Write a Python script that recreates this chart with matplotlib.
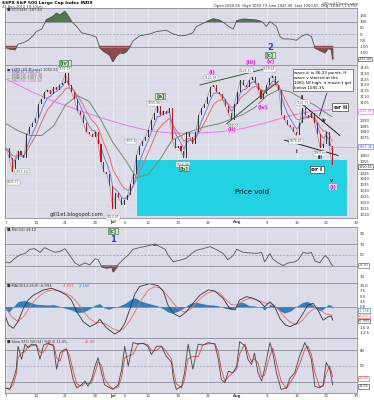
import numpy as np
import pandas as pd
import matplotlib
matplotlib.use('Agg')
import matplotlib.pyplot as plt
from matplotlib.patches import Rectangle

# ---- data (x in trading days from 7-Jun-2010) ----
price = [1066,1058,1046,1056,1064,1060,1058,1078,1084,1088,
         1092,1104,1108,1114,1116,1112,1118,1116,1120,1122,
         1130,1120,1114,1108,1098,1094,1088,1080,1078,1076,
         1080,1070,1054,1046,1044,1034,1014,1028,1024,1018,
         1022,1026,1036,1044,1060,1068,1072,1076,1082,1090,
         1096,1103,1094,1098,1096,1100,1074,1066,1068,1064,
         1058,1080,1076,1070,1080,1094,1100,1104,1110,1118,
         1120,1114,1112,1108,1102,1096,1090,1104,1114,1124,
         1120,1118,1124,1127,1122,1116,1108,1112,1120,1126,
         1128,1120,1116,1094,1090,1086,1084,1080,1077,1088,
         1100,1094,1092,1096,1088,1078,1066,1070,1080,1068,
         1052]
price_step = 0.5

ma_days = [0,2,4,6,8,10,12,14,16,18,20,22,24,26,28,30,32,34,36,38,40,42,44,46,48,50,52,54,55]
ma_vals = [1087,1081,1077,1077,1085,1103,1111,1106,1090,1071,1057,1041,1044,1057,1073,1078,
           1082,1085,1087,1091,1095,1101,1111,1116,1114,1108,1103,1096,1093]

ma200_days = [0,4,8,12,16,20,24,28,32,36,40,44,48,52,55]
ma200_vals = [1125,1115,1106,1099,1092,1086,1081,1079,1079,1080,1083,1088,1094,1098,1099]

cci_days = [-0.2,0.6,1.5,2.0,2.9,3.7,4.6,5.1,6.0,6.8,7.9,8.5,9.1,9.9,10.5,11.0,11.9,12.7,13.6,14.4,
            15.2,15.8,16.5,16.9,17.5,18.0,18.6,19.2,19.8,20.3,20.9,21.4,22.5,24.2,25.4,27.0,28.2,29.3,
            30.4,31.5,32.1,33.2,34.4,34.9,35.8,36.6,37.7,38.3,38.9,40.0,41.1,42.2,43.3,43.9,44.5,45.6,
            46.2,46.7,47.9,49.0,49.8,50.7,51.5,52.1,52.9,53.8,54.3,54.9,55.1]
cci_vals = [-105,-120,-125,-80,-70,-50,-10,20,40,113,140,165,150,180,140,100,60,10,0,-10,
            -25,-110,-140,-150,-170,-220,-175,-150,-155,-140,-100,-55,-15,0,20,30,0,-15,
            -10,10,60,85,110,120,112,95,55,40,105,118,115,110,95,60,100,60,
            -20,-40,-40,-50,-20,0,-20,-110,-130,-150,-115,-125,-200]

rsi_days = [-0.2,0.6,1.5,2.3,3.2,4.0,4.8,5.7,6.5,7.4,8.2,9.1,9.9,10.7,11.6,12.4,13.3,14.1,15.0,15.5,
            16.1,16.9,17.8,18.0,18.9,19.7,20.6,21.4,22.5,23.7,25.1,25.9,26.8,27.3,28.2,29.6,30.4,31.3,
            32.1,33.2,34.4,35.5,36.6,37.4,38.3,38.9,40.0,41.1,42.2,43.1,43.6,44.5,45.0,45.9,46.7,47.6,
            48.7,49.3,50.1,50.9,51.5,52.1,52.9,53.8,54.3,54.9,55.1]
rsi_vals = [37,35,44,50,53,61,62,55,64,59,55,57,62,50,35,30,35,31,43,41,
            28,26,28,19,32,41,50,61,64,67,71,66,61,50,37,41,44,53,
            59,62,66,60,53,41,49,61,55,54,53,55,37,53,42,35,30,35,
            37,41,55,53,55,39,35,49,44,32,30]

macd_days = [-0.2,0.4,1.2,2.0,2.9,3.7,4.6,6.3,7.7,9.1,10.2,11.0,11.9,13.0,14.1,15.2,15.8,16.9,18.3,19.2,
             20.0,20.9,21.7,22.5,24.2,25.6,26.5,27.3,28.2,29.3,30.4,31.5,32.7,34.1,35.2,36.6,37.7,38.6,
             39.4,40.6,41.7,42.8,43.6,44.5,45.3,46.2,47.1,47.9,49.0,50.1,50.9,51.8,52.6,53.5,54.3,54.9,55.1]
macd_vals = [-4,-8.7,-10.3,-7,-0.8,3.2,5.5,8,8.8,7.2,5.5,3.2,-2.4,-7.1,-9.5,-8,-6,-10,-13,-11.5,
             -8,-1,6,9.6,11,10,7.5,0.8,-3.2,-4.8,-2.4,1.6,5.5,8,7.5,4,-0.8,-1.6,
             3.2,4.8,4,2.4,0,2.4,0,-5.6,-8.7,-9.5,-8,-3.2,0.8,1.6,-1.6,-6.4,-4.8,-4.5,-6.4]

sig_days = list(range(0, 56))
sig_vals = [-1,-5,-7,-4.5,0,3.5,6,7.5,8,7.5,6.5,5,2,-2,-5.5,-7.5,-7.5,-8.5,-10.5,-11.5,
            -10,-6,-1,4,8,9.5,9,6,2.5,-1,-2.5,-1.5,1.5,4.5,6.5,7.5,6.5,3.5,1,0.8,
            2.8,4,3.6,2.5,1.5,1.2,-1.5,-5,-7.5,-8.5,-6.5,-3,-0.8,-1.5,-3.5,-4]

hist_days = [-0.2,0.5,1.2,2,3,4,5,6,7,8,9,10,11,12,13,14,15,15.8,16.5,17.3,18,19,20,21,21.7,22.5,
             23.5,24.5,25.5,26.5,27.3,28,29,30,31,32,33,34,35,36,37,38,38.6,39.3,40,41,42,43,43.6,
             44.5,45.3,46.2,47,48,49,50,50.8,51.5,52.2,52.9,53.6,54.3,54.9,55.1]
hist_vals = [-1.2,-2.5,0,2.5,3,2.2,1.2,1,0.8,1,0.2,-0.8,-1.5,-2.8,-2.5,-1.2,0.8,1.5,-0.5,-1.2,-0.5,0.3,1.5,3.5,4.3,3,
             2,1.2,0.5,-1,-2.5,-3,-2.2,-0.5,1.5,2.2,1.5,1,0.8,0.3,-0.8,-1.2,-0.5,2.2,2,0.6,0.3,-0.2,-1.5,
             1,0.3,-2,-3,-2,0.2,2,2.6,1.5,-0.5,-2,-1,1,0.6,-1.5]

sto_days = [-0.2,0.6,1.2,1.7,2.0,2.6,3.2,3.7,4.3,5.1,5.7,6.3,7.1,8.0,8.5,9.1,9.6,10.2,10.7,11.3,
            11.9,12.7,13.3,13.8,14.4,15.0,15.5,16.1,16.6,17.5,18.0,18.9,19.5,20.0,20.6,21.4,22.3,23.1,
            23.9,24.5,25.4,26.2,27.0,27.9,28.2,28.7,29.6,30.1,30.7,31.5,32.4,33.2,34.1,35.2,35.8,36.3,
            36.9,37.5,38.3,38.9,39.4,40.3,40.8,41.4,41.9,42.5,43.1,43.6,44.5,45.0,45.6,46.4,47.3,47.9,
            48.7,49.5,50.4,50.9,51.5,52.1,52.9,53.5,54.0,54.6,55.1]
sto_k = [8,5,24,44,88,63,92,85,92,90,63,90,94,88,44,75,80,83,57,24,
         8,14,21,11,24,50,66,37,14,8,5,14,44,88,50,95,92,94,
         88,72,88,88,69,57,27,5,11,37,92,44,92,90,95,92,63,24,
         18,40,37,50,97,88,63,53,75,37,21,44,95,75,37,5,8,27,
         37,69,95,82,63,11,8,14,57,44,14]

tick_days = [0,5,10,15,18,20,24,29,34,39,44,49,54,59]
tick_labels = ['7','14','21','28','Jul','6','12','19','26','Aug','9','16','23','30']

W, H = 374, 400
BG = '#dcdce8'
fig = plt.figure(figsize=(W/100, H/100), dpi=100)
fig.patch.set_facecolor('white')

def panel(top, bottom):
    ax = fig.add_axes([5/W, 1-bottom/H, 352/W, (bottom-top)/H])
    ax.set_facecolor(BG)
    ax.set_xlim(-0.2, 59.2)
    for s in ax.spines.values():
        s.set_color('#8a8a9a'); s.set_linewidth(0.6)
    ax.set_xticks(tick_days)
    ax.tick_params(axis='x', length=0, labelbottom=False)
    ax.yaxis.tick_right()
    ax.tick_params(axis='y', length=0, labelsize=2.8, pad=2, labelcolor='#333333')
    for d in tick_days:
        ax.axvline(d, color='#ececf4', lw=0.5, zorder=0)
    return ax

def set_right_ticks(ax, vals, fmt, hide=()):
    ax.set_yticks(vals)
    ax.set_yticklabels(['' if v in hide else fmt.format(v) for v in vals])

def ftext(px, py, s, **kw):
    fig.text(px/W, 1-py/H, s, **kw)

def vbox(ax, y, t, c):
    ax.text(59.5, y, t, fontsize=2.4, color=c, va='center', ha='left', clip_on=False, zorder=9,
            bbox=dict(boxstyle='square,pad=0.1', fc='white', ec=c, lw=0.4))

# header
ftext(2, 3, '$SPX S&P 500 Large Cap Index INDX', fontsize=3.2, fontweight='bold', va='center')
ftext(2, 7, '24-Aug-2010 10:30am', fontsize=2.6, color='#444444', va='center')
ftext(340, 3, '@StockCharts.com', fontsize=2.8, color='#444444', va='center', ha='center')
ftext(357, 6.5, 'Open 1050.55  High 1050.73  Low 1047.00  Last 1050.55  Chg -16.81 (-1.57%)',
      fontsize=2.6, color='#222222', va='center', ha='right')

# ---- CCI ----
ax1 = panel(8, 65)
ax1.set_ylim(-248, 208)
set_right_ticks(ax1, [150, 100, 50, 0, -50, -100, -150], '{}')
cx = np.array(cci_days); cy = np.array(cci_vals)
ax1.axhline(100, color='#8c8c9c', lw=0.6)
ax1.axhline(-100, color='#8c8c9c', lw=0.6)
ax1.axhline(0, color='#9c9cac', lw=0.5, ls=(0, (3, 2)))
ax1.fill_between(cx, cy, 100, where=cy > 100, interpolate=True, color='#4f7a4f')
ax1.fill_between(cx, cy, -100, where=cy < -100, interpolate=True, color='#8e4a4a')
ax1.plot(cx, cy, color='#555555', lw=0.6)
ax1.text(0.2, 190, '\u25a0 CCI(144) -187.44', fontsize=2.6, color='#333333', va='center')
vbox(ax1, -200, '-187.44', '#333333')

# ---- price ----
ax2 = panel(65, 218)
ax2.set_ylim(1006.7, 1137)
set_right_ticks(ax2, list(range(1010, 1136, 5)), '{}', hide=(1050, 1065, 1070, 1095, 1100))
for v in np.arange(1010, 1136, 10):
    ax2.axhline(v, color='#e6e6ee', lw=0.4, zorder=0)
ax2.add_patch(Rectangle((22.0, 1008.5), 35.5, 47.6, color='#22d2e2', zorder=1, lw=0))
px = np.arange(len(price)) * price_step
pv = np.array(price, dtype=float)
s = pd.Series(pv)
ema_fast = s.ewm(span=4, adjust=False).mean()
ema_slow = s.ewm(span=8, adjust=False).mean()
ax2.plot(ma200_days, ma200_vals, color='#e67ae6', lw=0.7, zorder=2)
ax2.plot(ma_days, ma_vals, color='#6f8c6f', lw=0.7, zorder=2)
ax2.plot(px, ema_slow, color='#e86a6a', lw=0.7, zorder=3)
ax2.plot(px, ema_fast, color='#6f7fd8', lw=0.7, zorder=3)
ax2.plot(px, pv, color='#8a8a8a', lw=0.45, zorder=3)
for i in range(1, len(pv)):
    o, c = pv[i-1], pv[i]
    col = '#333333' if c >= o else '#d01010'
    ax2.bar(px[i], max(abs(c - o), 0.8), bottom=min(o, c), width=0.17, color=col, zorder=4, lw=0)

# trendlines
ax2.plot([32.7, 43.9], [1120, 1134], color='#2f5f2f', lw=0.7, zorder=5)
ax2.plot([37.2, 45.9], [1087, 1123], color='#2f5f2f', lw=0.7, zorder=5)
ax2.plot([50.1, 56.3], [1103, 1077], color='#222222', lw=0.7, zorder=5)
ax2.plot([47.0, 56.0], [1073, 1060], color='#222222', lw=0.7, zorder=5)
ax2.plot([54.8, 59.2], [1067, 1067], color='#9aa8d8', lw=0.5, ls=(0, (2, 1)), zorder=5)

# legend
leg = [('\u25a0 $SPX (60 Minute) 1050.55', '#333333'), ('\u2014 EMA(5) 1056.43', '#5060c8'),
       ('\u2014 EMA(10) 1060.36', '#d84a4a'), ('\u2014 EMA(20) 1067.78', '#4f6f4f'),
       ('\u2014 MA(200) 1095.86', '#e060e0')]
for k, (t, c) in enumerate(leg):
    ax2.text(0.2, 1133.5 - k*2.6, t, fontsize=2.5, color=c, va='center', zorder=6)

# wave labels
G, M = '#2f6a2f', '#e020e0'
def lab(d, p, t, c, fs=3.8, box=None):
    ax2.text(d, p, t, color=c, fontsize=fs, ha='center', va='center', zorder=7,
             clip_on=False, bbox=box, fontweight='bold')
gbox = dict(boxstyle='square,pad=0.1', fc='#cfe8cf', ec='#2f6a2f', lw=0.4)
lab(9.9, 1139, '[iv]', G, box=gbox)
lab(26.0, 1111, '[a]', G, box=gbox)
lab(30.0, 1049, '[b]', G, box=gbox)
mbox = dict(boxstyle='square,pad=0.1', fc='#f4c8f4', ec='none')
lab(34.7, 1131, '(i)', M, box=mbox)
lab(38.1, 1082, '(ii)', M, box=mbox)
lab(41.3, 1139.5, '(iii)', M, box=mbox)
lab(43.3, 1101, '(iv)', M, box=mbox)
lab(44.6, 1140, '(v)', M, box=mbox)
lab(48.9, 1063, 'i', '#222222', fs=3.5)
lab(50.0, 1109, 'ii', '#222222', fs=3.5)
lab(52.9, 1058, 'iii', '#222222', fs=3.5)
lab(53.6, 1090, 'iv', '#222222', fs=3.5)
lab(54.9, 1039, 'v', '#222222', fs=3.5)
lab(55.1, 1033, '(i)', M, box=mbox)
wbox = dict(boxstyle='square,pad=0.25', fc='white', ec='#444444', lw=0.5)
lab(52.4, 1048, 'or i', '#111111', fs=4.2, box=wbox)
lab(56.4, 1101, 'or ii', '#111111', fs=4.2, box=wbox)
ax2.text(41.4, 1029, 'Price void', fontsize=5, ha='center', va='center', zorder=7)
ax2.text(11.9, 1010, 'gill1et.blogspot.com', fontsize=3.8, ha='center', va='center', zorder=7, color='#222222')
ax2.text(48.6, 1124, 'wave iii is 36.23 points. If\nwave v started at the\n1081.58 high, it mustn\'t get\nbelow 1045.35',
         fontsize=3.0, va='center', ha='left', linespacing=1.3, zorder=8,
         bbox=dict(boxstyle='square,pad=0.4', fc='white', ec='#555555', lw=0.5))
ax2.plot([54.1, 52.9], [1113, 1094], color='#333333', lw=0.6, zorder=8)

# small price tags
pbox = dict(boxstyle='square,pad=0.15', fc='white', ec='#999999', lw=0.3)
tags = [(9.9, 1133.5, '1131.23'), (1.2, 1037, '1042.17'), (2.7, 1046, '1055.64'),
        (18.0, 1007.5, '1010.91'), (25.0, 1104.5, '1099.96'), (29.8, 1052, '1056.88'),
        (34.6, 1126, '1120.95'), (38.2, 1085, '1088.01'), (44.4, 1133.5, '1129.24'),
        (40.5, 1132, '1128.75'), (48.9, 1072, '1076.61'), (50.1, 1105, '1101.73'),
        (52.9, 1062, '1063.xx'), (21.0, 1072, '1071.6')]
for d, p, t in tags:
    ax2.text(d, p, t, fontsize=2.2, color='#555555', ha='center', va='center', zorder=6, bbox=pbox)

# right value boxes
vbox(ax2, 1097.5, '1095.86', '#e060e0')
vbox(ax2, 1067.5, '1067.36', '#5060c8')
vbox(ax2, 1050.5, '1050.55', '#222222')

# wave 2 / [c] and wave 1 / [c] labels
ftext(270, 47, '2', fontsize=6, color='#2040e0', ha='center', va='center', fontweight='bold')
ftext(270, 55, '[c]', fontsize=3.8, color=G, ha='center', va='center', fontweight='bold',
      bbox=gbox)

# date labels between panels and at bottom
for d, t in zip(tick_days, tick_labels):
    xp = 5 + (d + 0.2) / 59.4 * 352
    wt = 'bold' if t in ('Jul', 'Aug') else 'normal'
    ftext(xp, 222.5, t, fontsize=2.8, ha='center', va='center', color='#444444', fontweight=wt)
    ftext(xp, 396, t, fontsize=2.8, ha='center', va='center', color='#444444', fontweight=wt)

# ---- RSI ----
ax3 = panel(227, 283)
ax3.set_ylim(-3.3, 103.3)
set_right_ticks(ax3, [90, 70, 50, 30, 10], '{}', hide=(30,))
rx = np.array(rsi_days); ry = np.array(rsi_vals, dtype=float)
ax3.axhline(70, color='#8c8c9c', lw=0.6)
ax3.axhline(30, color='#8c8c9c', lw=0.6)
ax3.axhline(50, color='#9c9cac', lw=0.5, ls=(0, (3, 2)))
ax3.fill_between(rx, ry, 70, where=ry > 70, interpolate=True, color='#4f7a4f')
ax3.fill_between(rx, ry, 30, where=ry < 30, interpolate=True, color='#8e4a4a')
ax3.plot(rx, ry, color='#555555', lw=0.6)
ax3.text(0.2, 97, '\u25a0 RSI(14) 39.12', fontsize=2.6, color='#333333', va='center')
ftext(113, 231, '[c]', fontsize=3.8, color=G, ha='center', va='center', fontweight='bold', bbox=gbox)
ftext(113, 239.5, '1', fontsize=6, color='#2040e0', ha='center', va='center', fontweight='bold')
vbox(ax3, 30.5, '31.30', '#555555')

# ---- MACD ----
ax4 = panel(283, 338)
ax4.set_ylim(-14.9, 11.3)
set_right_ticks(ax4, [10, 7.5, 5, 2.5, 0, -2.5, -5, -7.5, -10, -12.5], '{:.1f}', hide=(-2.5, -5, -7.5))
ax4.fill_between(hist_days, hist_vals, 0, color='#2f7fbf', lw=0)
ax4.axhline(0, color='#2f7fbf', lw=0.4)
ax4.plot(sig_days, sig_vals, color='#e86a6a', lw=0.6)
ax4.plot(macd_days, macd_vals, color='#333333', lw=0.6)
ax4.text(0.2, 10, '\u25a0 MACD(12,26,9) -6.993, ', fontsize=2.6, color='#333333', va='center')
ax4.text(9.5, 10, '-4.837, ', fontsize=2.6, color='#e05050', va='center')
ax4.text(12.3, 10, '-2.156', fontsize=2.6, color='#2f7fbf', va='center')
vbox(ax4, -1.8, '-1.156', '#2f7fbf')
vbox(ax4, -4.3, '-4.837', '#e05050')
vbox(ax4, -6.8, '-6.993', '#333333')

# ---- Slow stochastics ----
ax5 = panel(338, 393)
ax5.set_ylim(-1.9, 103.8)
set_right_ticks(ax5, [80, 50, 20], '{}', hide=(20,))
kx = np.array(sto_days); ky = np.array(sto_k, dtype=float)
kd = pd.Series(ky).rolling(2, min_periods=1).mean()
ax5.axhline(80, color='#8c8c9c', lw=0.6)
ax5.axhline(20, color='#8c8c9c', lw=0.6)
ax5.axhline(50, color='#9c9cac', lw=0.5, ls=(0, (3, 2)))
ax5.plot(kx, kd, color='#e04848', lw=0.6)
ax5.plot(kx, ky, color='#444444', lw=0.6)
ax5.text(0.2, 97, '\u25a0 Slow STO %K(14) %D(3) 11.05, ', fontsize=2.6, color='#333333', va='center')
ax5.text(13.3, 97, '25.99', fontsize=2.6, color='#e04848', va='center')
vbox(ax5, 26, '25.99', '#e04848')
vbox(ax5, 11, '11.05', '#333333')

fig.savefig('out.png', dpi=100)
